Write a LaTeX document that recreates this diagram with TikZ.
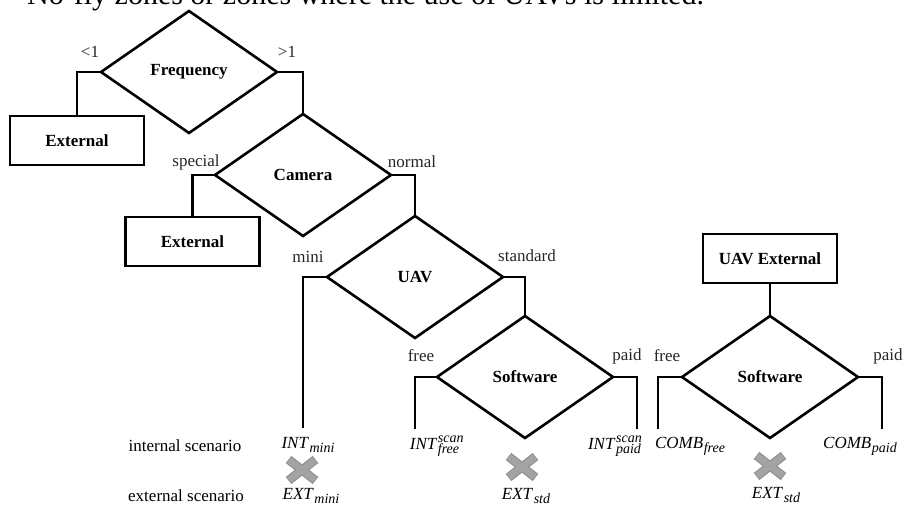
\documentclass[tikz,border=0pt]{standalone}
\usepackage{fontspec}
\setmainfont{Liberation Serif}
\usetikzlibrary{shapes.geometric}
\definecolor{crossfill}{HTML}{A3A3A3}
\definecolor{crossedge}{HTML}{8C8C8C}
\definecolor{labelgray}{HTML}{262626}
\newcommand\lblfont{\fontsize{17}{20}\selectfont}
\newcommand\smallidx{\fontsize{14}{15}\selectfont\itshape}
% main symbol with subscript
\newcommand\scensub[2]{\textit{#1}\kern0.6pt\raisebox{-4pt}{\smallidx #2}}
% main symbol with superscript and subscript
\newcommand\scensupsub[3]{\textit{#1}\kern0.6pt\makebox[0pt][l]{\raisebox{6.5pt}{\smallidx #2}}\raisebox{-4pt}{\smallidx #3}\kern1pt}
\begin{document}
\begin{tikzpicture}[x=1pt,y=-1pt,
  dec/.style={diamond, draw, line width=2.6pt, minimum width=176pt, minimum height=122pt,
              inner sep=0pt, outer sep=0pt, font=\lblfont\bfseries},
  box/.style={rectangle, draw, line width=2.6pt, minimum width=134pt, minimum height=49pt,
              inner sep=0pt, outer sep=0pt, font=\lblfont\bfseries},
  conn/.style={line width=2.6pt},
  lbl/.style={font=\lblfont, text=labelgray, inner sep=0pt},
  scen/.style={font=\lblfont, anchor=base, inner sep=0pt},
  crossedgeline/.style={crossedge, line width=9pt},
  crossfillline/.style={crossfill, line width=7pt},
]
\useasboundingbox (0,0) rectangle (904,505);

% cut-off text line at the top
\node[anchor=base west, inner sep=0pt, font=\fontsize{30}{36}\selectfont] (top) at (27,4.5)
  {No-fly zones or zones where the use of UAVs is limited.};

% decision diamonds and boxes
\node[dec] (freq) at (189,72) {Frequency};
\node[box] (ext1) at (77,140.5) {External};
\node[dec] (cam) at (303,175) {Camera};
\node[box] (ext2) at (192.5,241.5) {External};
\node[dec] (uav) at (415,277) {UAV};
\node[dec] (sw1) at (525,377) {Software};
\node[box] (uavext) at (770,258.5) {UAV External};
\node[dec] (sw2) at (770,377) {Software};

% free ends of connectors
\coordinate (emini) at (303,428);
\coordinate (efree1) at (415,429);
\coordinate (epaid1) at (637,429);
\coordinate (efree2) at (658,429);
\coordinate (epaid2) at (882,429);

% connectors
\draw[conn] (freq.west) -| (ext1.north);
\draw[conn] (freq.east) -| (cam.north);
\draw[conn] (cam.west) -| (ext2.north);
\draw[conn] (cam.east) -| (uav.north);
\draw[conn] (uav.west) -| (emini);
\draw[conn] (uav.east) -| (sw1.north);
\draw[conn] (sw1.west) -| (efree1);
\draw[conn] (sw1.east) -| (epaid1);
\draw[conn] (uavext.south) -- (sw2.north);
\draw[conn] (sw2.west) -| (efree2);
\draw[conn] (sw2.east) -| (epaid2);

% branch labels
\node[lbl] (l1) at (90,52) {<1};
\node[lbl] (l2) at (287,52) {>1};
\node[lbl] (l3) at (196,162) {special};
\node[lbl] (l4) at (412,162) {normal};
\node[lbl] (l5) at (308,257) {mini};
\node[lbl] (l6) at (527,256) {standard};
\node[lbl] (l7) at (421,356) {free};
\node[lbl] (l8) at (627,356) {paid};
\node[lbl] (l9) at (667,356) {free};
\node[lbl] (l10) at (888,356) {paid};

% scenario rows
\node[scen] (introw) at (185,451) {internal scenario};
\node[scen] (extrow) at (186,501) {external scenario};
\node[scen] (intmini) at (308,448) {\scensub{INT}{mini}};
\node[scen] (extmini) at (311,499.5) {\scensub{EXT}{mini}};
\node[scen] (intfree) at (435,449) {\scensupsub{INT}{scan}{free}};
\node[scen] (extstd1) at (526,499.5) {\scensub{EXT}{std}};
\node[scen] (intpaid) at (615,449) {\scensupsub{INT}{scan}{paid}};
\node[scen] (combfree) at (690,448) {\scensub{COMB}{free}};
\node[scen] (extstd2) at (776,498.5) {\scensub{EXT}{std}};
\node[scen] (combpaid) at (860,448) {\scensub{COMB}{paid}};

% crosses
\coordinate (x1) at (302,470);
\coordinate (x2) at (522,467);
\coordinate (x3) at (770,466);
\foreach \c in {x1,x2,x3}{
  \draw[crossedgeline, shift={(\c)}] (-13.5,-10.5) -- (13.5,10.5) (-13.5,10.5) -- (13.5,-10.5);
  \draw[crossfillline, shift={(\c)}] (-13,-10) -- (13,10) (-13,10) -- (13,-10);
}
\end{tikzpicture}
\end{document}
